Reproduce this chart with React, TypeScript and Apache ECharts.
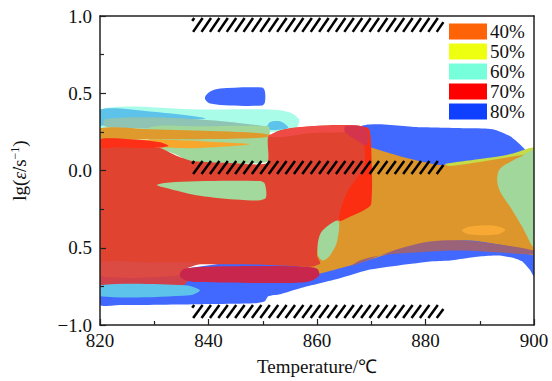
import React, { useEffect, useRef } from 'react';
import * as echarts from 'echarts';

type Pt = [number, number];

const LEVELS = ['40%', '50%', '60%', '70%', '80%'];
const LEVEL_COLORS = ['#ff6308', '#eeff10', '#77ffdb', '#ff0000', '#1040ff'];
const Y_TICK_VALUES = [-1, -0.5, 0, 0.5, 1];
const Y_TICK_LABELS = ['−1.0', '0.5', '0.0', '0.5', '1.0'];

// instability hatch bands: [T0, T1, lgTop, lgBottom]
const HATCH_BANDS = [
  [837.0, 883.3, 0.987, 0.897],
  [837.0, 883.3, 0.061, -0.023],
  [837.0, 883.3, -0.871, -0.955],
];

// ---- domain outlines [temperature, lg strain rate] ----
const BLUE_ENVELOPE: Pt[] = [[867.9, 0.28], [879.0, 0.28], [888.2, 0.273], [892.4, 0.267], [895.6, 0.222], [897.4, 0.17], [898.7, 0.125], [900, 0.1], [900, -0.685], [899.3, -0.646], [897.8, -0.588], [896.5, -0.569], [893.7, -0.55], [890.0, -0.556], [884.5, -0.582], [881.4, -0.588], [875.3, -0.614], [869.2, -0.646], [864.2, -0.698], [856.9, -0.762], [853.2, -0.801], [851.0, -0.814], [850.4, -0.846], [848.6, -0.859], [838.4, -0.865], [823.7, -0.871], [820, -0.871], [820, -0.73], [856.9, -0.505], [867.9, -0.183]];
const BLUE_BLOB: Pt[] = [[839.4, 0.479], [840.3, 0.511], [842.1, 0.531], [849.9, 0.537], [850.4, 0.511], [850.4, 0.441], [849.9, 0.421], [844.0, 0.421], [840.3, 0.434], [839.4, 0.46]];
const CYAN_TOP: Pt[] = [[820, 0.395], [838.4, 0.395], [851.3, 0.395], [855.0, 0.376], [856.7, 0.331], [856.3, 0.28], [854.1, 0.254], [838.4, 0.235], [820, 0.215]];
const BLUE_WEDGE: Pt[] = [[820, 0.395], [829.2, 0.382], [839.4, 0.338], [832.9, 0.325], [823.7, 0.318], [820, 0.293]];
const BLUE_SPECK: Pt[] = [[850.8, 0.267], [851.3, 0.312], [853.2, 0.318], [854.7, 0.28], [854.1, 0.267]];
const GREY_LENS: Pt[] = [[820.9, 0.331], [829.2, 0.344], [840.3, 0.325], [847.6, 0.299], [851.0, 0.28], [845.8, 0.267], [834.7, 0.267], [825.5, 0.273], [820.9, 0.286]];
const GREEN_TOP: Pt[] = [[829.2, 0.28], [838.4, 0.286], [851.0, 0.286], [851.3, 0.254], [851.0, 0.138], [850.8, 0.055], [837.0, 0.055], [833.8, 0.106], [831.1, 0.144], [829.2, 0.19]];
const ORANGE_BAND: Pt[] = [[820, 0.273], [829.2, 0.267], [842.1, 0.254], [849.5, 0.241], [852.3, 0.222], [847.6, 0.209], [838.4, 0.203], [829.2, 0.203], [820, 0.203]];
const ORANGE_LIGHT: Pt[] = [[827.4, 0.196], [834.7, 0.196], [842.1, 0.183], [847.6, 0.17], [841.2, 0.151], [834.7, 0.145], [829.2, 0.158]];
const ORANGE_MAIN: Pt[] = [[864.2, 0.235], [869.2, 0.158], [875.3, 0.093], [882.7, 0.035], [887.6, 0.055], [893.7, 0.087], [897.4, 0.113], [900, 0.138], [900, -0.543], [895.6, -0.492], [888.2, -0.453], [880.8, -0.466], [875.3, -0.518], [869.2, -0.582], [864.2, -0.633], [860.6, -0.666], [856.9, -0.666], [856.9, -0.183]];
const LIME_STRIP: Pt[] = [[883.6, 0.042], [890.0, 0.074], [895.6, 0.106], [900, 0.151], [900, 0.119], [895.6, 0.087], [890.0, 0.055], [884.5, 0.029]];
const MAUVE_BAND: Pt[] = [[865.2, -0.633], [869.2, -0.582], [875.3, -0.505], [880.8, -0.46], [886.9, -0.453], [893.7, -0.479], [900, -0.518], [900, -0.543], [893.7, -0.531], [886.9, -0.518], [880.8, -0.524], [875.3, -0.537], [871.6, -0.55], [867.9, -0.582], [866.1, -0.621]];
const GREEN_RIGHT: Pt[] = [[893.2, -0.055], [893.7, 0.01], [895.6, 0.055], [897.4, 0.087], [900, 0.125], [900, -0.492], [897.8, -0.363], [895.6, -0.235], [893.7, -0.132]];
const ORANGE_SPOT: Pt[] = [[886.7, -0.389], [888.2, -0.363], [892.8, -0.357], [894.7, -0.383], [893.2, -0.415], [888.2, -0.415]];
const ROSE_BAND: Pt[] = [[820, -0.678], [835.3, -0.672], [836.2, -0.71], [835.3, -0.743], [820, -0.749]];
const CYAN_LOW: Pt[] = [[820, -0.743], [835.7, -0.743], [838.4, -0.775], [836.6, -0.807], [820, -0.814]];
const RED_MAIN: Pt[] = [[820, 0.196], [825.5, 0.177], [831.1, 0.145], [833.8, 0.1], [837.0, 0.061], [844.0, 0.048], [850.8, 0.048], [851.0, 0.215], [853.2, 0.26], [856.9, 0.28], [862.4, 0.293], [866.1, 0.293], [868.8, 0.28], [869.8, 0.203], [869.8, -0.183], [868.8, -0.248], [866.4, -0.293], [863.9, -0.325], [861.5, -0.376], [860.4, -0.46], [860.0, -0.55], [860.6, -0.601], [859.3, -0.621], [856.9, -0.621], [847.6, -0.608], [836.6, -0.608], [827.4, -0.614], [820, -0.621]];
const RED_LOW_BAND: Pt[] = [[820, -0.595], [829.2, -0.595], [838.4, -0.601], [835.7, -0.64], [835.3, -0.678], [820, -0.685]];
const CRIMSON_BAND: Pt[] = [[835.3, -0.64], [838.4, -0.624], [851.3, -0.618], [856.9, -0.622], [860.0, -0.636], [860.4, -0.68], [858.4, -0.72], [851.3, -0.728], [838.4, -0.722], [835.7, -0.71], [834.7, -0.678]];
const RED_BRIGHT_LEFT: Pt[] = [[820, 0.203], [825.5, 0.203], [831.1, 0.183], [832.6, 0.158], [829.2, 0.145], [823.7, 0.151], [820, 0.151]];
const RED_CAP: Pt[] = [[851.0, 0.222], [854.1, 0.267], [858.7, 0.286], [865.2, 0.293], [868.3, 0.286], [869.0, 0.254], [865.2, 0.248], [858.7, 0.241], [853.2, 0.215]];
const RED_BRIGHT_RIGHT: Pt[] = [[868.7, 0.28], [869.6, 0.267], [870.0, 0.138], [870.0, -0.215], [868.8, -0.254], [866.4, -0.293], [864.2, -0.325], [864.4, -0.248], [865.7, -0.132], [867.9, -0.023], [868.8, 0.042], [868.7, 0.203]];
const CRIMSON_SPOT: Pt[] = [[865.2, 0.286], [868.3, 0.286], [869.4, 0.248], [869.2, 0.164], [867.0, 0.203], [865.2, 0.248]];
const GREEN_LENS: Pt[] = [[863.9, -0.325], [863.7, -0.46], [862.4, -0.55], [861.1, -0.582], [860.2, -0.55], [860.2, -0.46], [861.0, -0.389]];
const GREEN_FINGER: Pt[] = [[830.5, -0.093], [833.8, -0.074], [849.5, -0.068], [850.4, -0.087], [850.4, -0.183], [845.8, -0.19], [838.4, -0.164], [832.9, -0.119]];

// drawing order back -> front, with the blended fill seen in the map
const LAYERS: { level: string; pts: Pt[]; fill: string; smooth?: number }[] = [
  { level: '80%', pts: BLUE_ENVELOPE, fill: '#4169ff', smooth: 0.2 },
  { level: '80%', pts: BLUE_BLOB, fill: '#4169ff' },
  { level: '60%', pts: CYAN_TOP, fill: '#a9fce8' },
  { level: '80%', pts: BLUE_WEDGE, fill: '#5ec3ea' },
  { level: '80%', pts: BLUE_SPECK, fill: '#5ec3ea' },
  { level: '60%', pts: GREY_LENS, fill: '#8fc3b3' },
  { level: '60%', pts: GREEN_TOP, fill: '#a1d79b' },
  { level: '40%', pts: ORANGE_BAND, fill: '#df9a2d' },
  { level: '40%', pts: ORANGE_LIGHT, fill: '#f6a72c' },
  { level: '40%', pts: ORANGE_MAIN, fill: '#dc962c', smooth: 0.2 },
  { level: '50%', pts: LIME_STRIP, fill: '#c5dc48' },
  { level: '80%', pts: MAUVE_BAND, fill: '#9b6379' },
  { level: '60%', pts: GREEN_RIGHT, fill: '#a1d79b' },
  { level: '40%', pts: ORANGE_SPOT, fill: '#f7a933' },
  { level: '70%', pts: ROSE_BAND, fill: '#cf414b' },
  { level: '80%', pts: CYAN_LOW, fill: '#5ec3ea' },
  { level: '70%', pts: RED_MAIN, fill: '#e0432f', smooth: 0.2 },
  { level: '70%', pts: RED_LOW_BAND, fill: '#db4a43' },
  { level: '70%', pts: CRIMSON_BAND, fill: '#c8264c' },
  { level: '70%', pts: RED_BRIGHT_LEFT, fill: '#fd2f17' },
  { level: '70%', pts: RED_CAP, fill: '#ef4a45' },
  { level: '70%', pts: RED_BRIGHT_RIGHT, fill: '#fc2e12' },
  { level: '70%', pts: CRIMSON_SPOT, fill: '#d4344c' },
  { level: '60%', pts: GREEN_LENS, fill: '#a1d79b' },
  { level: '60%', pts: GREEN_FINGER, fill: '#a3d99c' },
];

const FONT = 'Liberation Serif';

export default function App() {
  const ref = useRef<HTMLDivElement>(null);
  useEffect(() => {
    if (!ref.current) return;
    const chart = echarts.init(ref.current, null, { renderer: 'svg' });

    const levelSeries = LEVELS.map((lv, li) => ({
      type: 'custom',
      name: lv,
      coordinateSystem: 'cartesian2d',
      clip: true,
      itemStyle: { color: LEVEL_COLORS[li] },
      encode: { x: 0, y: 1 },
      data: LAYERS.map((L, i) => (L.level === lv ? [860, 0, i] : null)).filter((d) => d !== null),
      renderItem: (params: any, api: any) => {
        const idx = api.value(2);
        const L = LAYERS[idx];
        return {
          type: 'polygon',
          z2: idx,
          shape: { points: L.pts.map((p) => api.coord(p)), smooth: L.smooth ?? 0.3 },
          style: { fill: L.fill },
        };
      },
    }));

    const hatchSeries = {
      type: 'custom',
      name: 'hatch',
      coordinateSystem: 'cartesian2d',
      z: 5,
      encode: { x: 0, y: 2 },
      data: HATCH_BANDS,
      renderItem: (params: any, api: any) => {
        const a = api.coord([api.value(0), api.value(2)]);
        const b = api.coord([api.value(1), api.value(3)]);
        const x0 = a[0], x1 = b[0], yt = a[1], yb = b[1];
        const h = yb - yt;
        const dx = 9.5, step = 8.4;
        const children: any[] = [];
        for (let s = x0 - dx + 2; s < x1; s += step) {
          let sx = s, sy = yb, ex = s + dx, ey = yt;
          if (sx < x0) { const t = (x0 - s) / dx; sx = x0; sy = yb - t * h; }
          if (ex > x1) { const t = (x1 - s) / dx; ex = x1; ey = yb - t * h; }
          children.push({ type: 'line', shape: { x1: sx, y1: sy, x2: ex, y2: ey }, style: { stroke: '#000', lineWidth: 2.5 } });
        }
        return { type: 'group', children };
      },
    };

    const txt = { fontFamily: FONT, fontSize: 19, color: '#111' };

    chart.setOption({
      animation: false,
      backgroundColor: '#fff',
      grid: { left: 100, right: 18, top: 16, bottom: 54 },
      legend: {
        data: LEVELS,
        orient: 'vertical',
        left: 449,
        top: 22,
        padding: 0,
        itemWidth: 38,
        itemHeight: 16,
        itemGap: 1,
        icon: 'rect',
        textStyle: { ...txt, padding: [0, 0, 0, -2] },
      },
      xAxis: [
        {
          type: 'value', min: 820, max: 900, interval: 20, z: 10,
          name: 'Temperature/℃', nameLocation: 'middle', nameGap: 32,
          nameTextStyle: txt,
          axisLine: { onZero: false, lineStyle: { color: '#222', width: 1.5 } },
          axisTick: { inside: true, length: 6, lineStyle: { color: '#222', width: 1.2 } },
          minorTick: { show: true, splitNumber: 2, length: 4, lineStyle: { color: '#222', width: 1.2 } },
          axisLabel: { ...txt, margin: 6 },
          splitLine: { show: false },
        },
        {
          type: 'value', min: 820, max: 900, position: 'top', z: 10,
          axisLine: { show: true, onZero: false, lineStyle: { color: '#222', width: 1.5 } },
          axisTick: { show: false }, axisLabel: { show: false }, splitLine: { show: false },
        },
      ],
      yAxis: [
        {
          type: 'value', min: -1, max: 1, interval: 0.5, z: 10,
          name: '{a|lg(}{e|ε̇}{a|/s}{s|−1}{a|)}', nameLocation: 'middle', nameGap: 70,
          nameTextStyle: {
            ...txt,
            rich: {
              a: { ...txt },
              e: { ...txt, fontStyle: 'italic' },
              s: { fontFamily: FONT, fontSize: 12, color: '#111', padding: [0, 0, 9, 0] },
            },
          },
          axisLine: { onZero: false, lineStyle: { color: '#222', width: 1.5 } },
          axisTick: { inside: true, length: 6, lineStyle: { color: '#222', width: 1.2 } },
          minorTick: { show: true, splitNumber: 2, length: 4, lineStyle: { color: '#222', width: 1.2 } },
          axisLabel: {
            ...txt, margin: 8,
            formatter: (v: number) => {
              const i = Y_TICK_VALUES.findIndex((t) => Math.abs(t - v) < 1e-6);
              return i >= 0 ? Y_TICK_LABELS[i] : '';
            },
          },
          splitLine: { show: false },
        },
        {
          type: 'value', min: -1, max: 1, position: 'right', z: 10,
          axisLine: { show: true, onZero: false, lineStyle: { color: '#222', width: 1.5 } },
          axisTick: { show: false }, axisLabel: { show: false }, splitLine: { show: false },
        },
      ],
      series: [...levelSeries, hatchSeries],
    });
    return () => chart.dispose();
  }, []);
  return <div ref={ref} style={{ position: 'fixed', left: 0, top: 0, width: 552, height: 381, background: '#fff' }} />;
}
